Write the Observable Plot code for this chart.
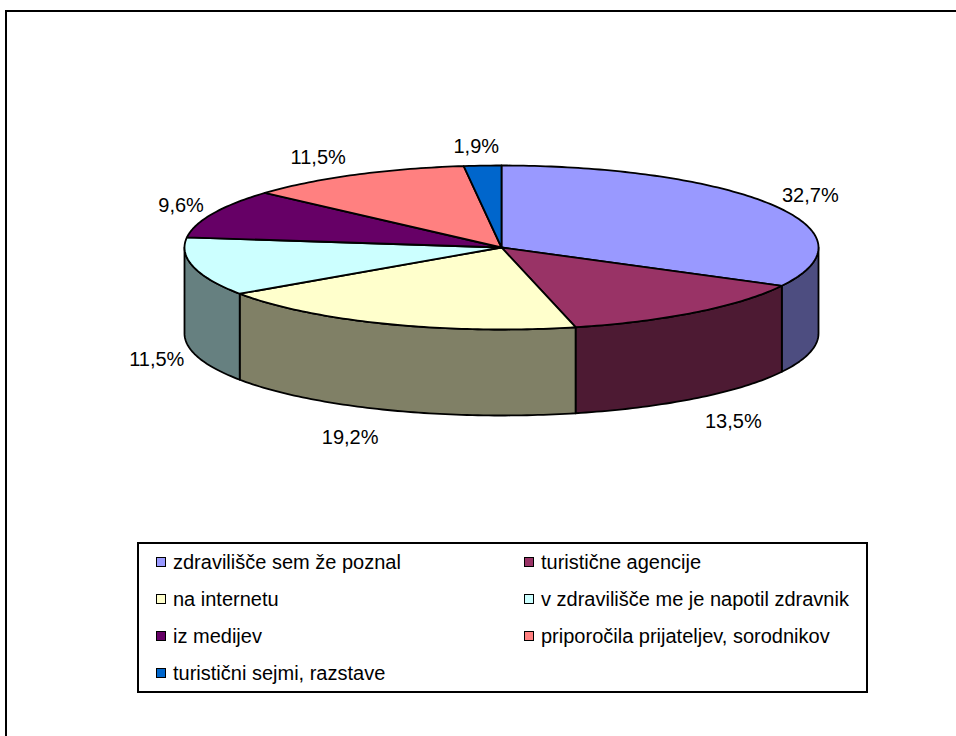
<!DOCTYPE html>
<html>
<head>
<meta charset="utf-8">
<script src="https://cdn.jsdelivr.net/npm/d3@7"></script>
<script src="https://cdn.jsdelivr.net/npm/@observablehq/plot@0.6"></script>
<style>
  body { margin: 0; background: #fff; font-family: "Liberation Sans", Arial, sans-serif; }
  #wrap { position: relative; width: 956px; height: 736px; overflow: hidden; background: #fff; }
  #chart { position: absolute; left: 0; top: 0; }
  #frame { position: absolute; left: 5px; top: 10px; width: 1200px; height: 1200px;
           border-left: 2px solid #000; border-top: 2px solid #000; }
  #legend { position: absolute; left: 137px; top: 542px; width: 731px; height: 151px;
            box-sizing: border-box; border: 2px solid #000; background: #fff; }
  .item { position: absolute; height: 20px; font-size: 20px; line-height: 20px; color: #000; white-space: nowrap; }
  .sw { position: absolute; left: 0; top: 5px; width: 8px; height: 8px; border: 1.5px solid #000; }
  .lab { position: absolute; left: 17px; top: 0; }
</style>
</head>
<body>
<div id="wrap">
  <div id="chart"></div>
  <div id="frame"></div>
  <div id="legend"></div>
</div>
<script>
// Sources of information about the spa (shares in %)
const categories = [
  "zdravilišče sem že poznal",
  "turistične agencije",
  "na internetu",
  "v zdravilišče me je napotil zdravnik",
  "iz medijev",
  "priporočila prijateljev, sorodnikov",
  "turistični sejmi, razstave"
];
const shares = [32.7, 13.5, 19.2, 11.5, 9.6, 11.5, 1.9];
const palette = ["#9999FF", "#993366", "#FFFFCC", "#CCFFFF", "#660066", "#FF8080", "#0066CC"];

// Ellipse placement of the pie (pixels) and wall height relative to the vertical radius
const cx = 501, cy = 247, rx = 317, ry = 82;
const depth = 86 / ry;

const slices = categories.map((name, i) => ({name, value: shares[i], color: palette[i], i}));
const arcs = d3.pie().sort(null).value(d => d.value).startAngle(0).endAngle(2 * Math.PI)(slices);

const pt = (a, dy = 0) => ({x: Math.sin(a), y: -Math.cos(a) + dy});
const arcPoints = (a0, a1, dy = 0) => {
  const n = Math.max(2, Math.ceil(Math.abs(a1 - a0) / (Math.PI / 180)));
  return d3.range(n + 1).map(k => pt(a0 + (a1 - a0) * k / n, dy));
};
const half = c => { const r = d3.rgb(c); return d3.rgb(r.r * 0.5, r.g * 0.5, r.b * 0.5).formatHex(); };

// Top faces
const tops = arcs.flatMap(a => {
  const pts = [{x: 0, y: 0}, ...arcPoints(a.startAngle, a.endAngle), {x: 0, y: 0}];
  return pts.map(p => ({...p, id: a.data.i, fill: a.data.color}));
});

// Visible outer walls (front half of the ellipse)
const walls = arcs.flatMap(a => {
  const s = Math.max(a.startAngle, Math.PI / 2), e = Math.min(a.endAngle, 3 * Math.PI / 2);
  if (e <= s) return [];
  const pts = [...arcPoints(s, e), ...arcPoints(e, s, depth)];
  pts.push(pts[0]);
  return pts.map(p => ({...p, id: a.data.i, fill: half(a.data.color)}));
});

// Percentage labels placed outside each slice
const fmt = v => d3.format(".1f")(v).replace(".", ",") + "%";
const ctx = document.createElement("canvas").getContext("2d");
ctx.font = '20px "Liberation Sans", Arial, sans-serif';
const labels = arcs.map(a => {
  const m = (a.startAngle + a.endAngle) / 2;
  const s = Math.sin(m), c = -Math.cos(m);
  const front = c > 0;
  const text = fmt(a.data.value);
  const hw = ctx.measureText(text).width / 2;
  const t = Math.max(-1, Math.min(1, s / 0.3));
  const px = t * (hw + 9);
  const py = c * (front ? 30 : 19);
  return {x: s + px / rx, y: c + (front ? depth : 0) + py / ry, text};
});

const chart = Plot.plot({
  width: 956,
  height: 736,
  margin: 0,
  style: {background: "transparent", overflow: "visible"},
  x: {domain: [-1, 1], range: [cx - rx, cx + rx], axis: null},
  y: {domain: [-1, 1], range: [cy - ry, cy + ry], axis: null},
  color: {type: "identity"},
  marks: [
    Plot.line(walls, {x: "x", y: "y", z: "id", fill: "fill", stroke: "#000", strokeWidth: 1.8, curve: "linear"}),
    Plot.line(tops, {x: "x", y: "y", z: "id", fill: "fill", stroke: "#000", strokeWidth: 1.8, curve: "linear"}),
    Plot.text(labels, {x: "x", y: "y", text: "text", fontSize: 20, fill: "#000",
      fontFamily: '"Liberation Sans", Arial, sans-serif', textAnchor: "middle", lineAnchor: "middle"})
  ]
});
document.getElementById("chart").appendChild(chart);

// Legend: two columns, filled row by row
const legend = d3.select("#legend");
slices.forEach((d, i) => {
  const item = legend.append("div").attr("class", "item")
    .style("left", (17 + (i % 2) * 368) + "px")
    .style("top", (8 + Math.floor(i / 2) * 37) + "px");
  item.append("div").attr("class", "sw").style("background", d.color);
  item.append("div").attr("class", "lab").text(d.name);
});
</script>
</body>
</html>
